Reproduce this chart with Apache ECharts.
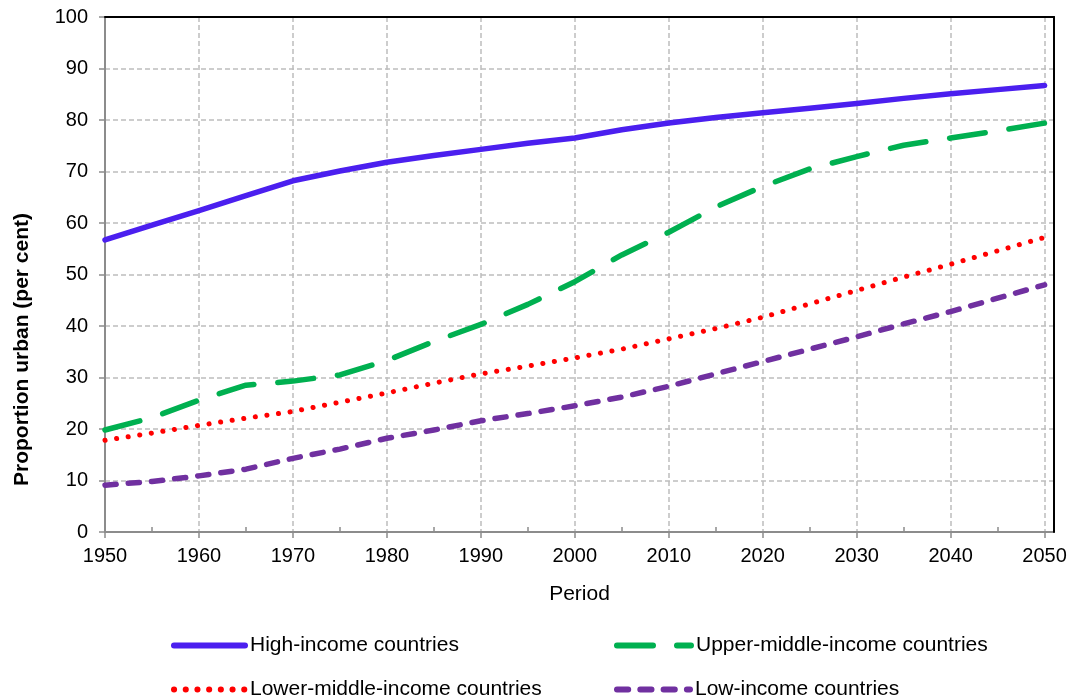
<!DOCTYPE html>
<html>
<head>
<meta charset="utf-8">
<script src="https://cdn.jsdelivr.net/npm/echarts@6/dist/echarts.min.js"></script>
<style>
html,body{margin:0;padding:0;background:#ffffff;}
#chart{width:1076px;height:700px;}
</style>
</head>
<body>
<div id="chart"></div>
<script>
// ---- data ----
const years = [1950,1955,1960,1965,1970,1975,1980,1985,1990,1995,2000,2005,2010,2015,2020,2025,2030,2035,2040,2045,2050];
const highIncome      = [56.7,59.6,62.4,65.3,68.2,70.1,71.8,73.1,74.3,75.5,76.5,78.1,79.4,80.5,81.4,82.3,83.2,84.2,85.1,85.9,86.7];
const upperMiddle     = [19.8,22.2,25.6,28.5,29.3,30.5,33.3,37.0,40.3,44.2,48.6,53.8,58.2,63.1,67.1,70.5,72.9,75.1,76.5,77.9,79.4];
const lowerMiddle     = [17.8,19.2,20.7,22.1,23.4,25.2,27.0,28.9,30.7,32.2,33.8,35.5,37.5,39.5,41.7,44.3,46.9,49.5,52.0,54.6,57.2];
const lowIncome       = [9.1,9.8,10.9,12.2,14.3,16.1,18.2,19.8,21.6,23.0,24.5,26.2,28.3,30.7,33.1,35.5,37.9,40.4,42.8,45.4,48.0];
const seriesNames = ['High-income countries','Upper-middle-income countries','Lower-middle-income countries','Low-income countries'];
const xTickLabels = [1950,1960,1970,1980,1990,2000,2010,2020,2030,2040,2050];
const xMinorTicks = [1955,1965,1975,1985,1995,2005,2015,2025,2035,2045];
const yAxisTitle = 'Proportion urban (per cent)';
const xAxisTitle = 'Period';

const pairs = arr => years.map((y, i) => [y, arr[i]]);
const FONT = "'Liberation Sans', Arial, sans-serif";

const chart = echarts.init(document.getElementById('chart'), null, {renderer: 'canvas'});

const legendBase = {
  orient: 'horizontal',
  padding: 0,
  itemHeight: 12,
  textStyle: {fontFamily: FONT, fontSize: 21, color: '#000'},
  lineStyle: {width: 6},
  itemStyle: {opacity: 0},
  selectedMode: false
};

const option = {
  backgroundColor: '#ffffff',
  animation: false,
  grid: {left: 105, right: 22, top: 17, bottom: 168, show: false},
  legend: [
    Object.assign({}, legendBase, {left: 171, top: 635, itemWidth: 71, data: [seriesNames[0]]}),
    Object.assign({}, legendBase, {left: 614, top: 635, itemWidth: 74, data: [seriesNames[1]]}),
    Object.assign({}, legendBase, {left: 171, top: 679, itemWidth: 71, data: [seriesNames[2]]}),
    Object.assign({}, legendBase, {left: 614, top: 679, itemWidth: 73, data: [seriesNames[3]]})
  ],
  xAxis: [{
    type: 'value', min: 1950, max: 2051, interval: 10, z: 3,
    name: xAxisTitle, nameLocation: 'middle', nameGap: 52,
    nameTextStyle: {fontFamily: FONT, fontSize: 21, color: '#000'},
    axisLine: {show: true, lineStyle: {color: '#8c8c8c', width: 2}},
    axisTick: {show: true, inside: false, length: 6, lineStyle: {color: '#8c8c8c', width: 1.5}, customValues: xTickLabels},
    axisLabel: {fontFamily: FONT, fontSize: 20, color: '#000', margin: 14, customValues: xTickLabels,
      formatter: v => (v % 10 === 0 ? String(v) : '')},
    splitLine: {show: true, lineStyle: {color: '#bdbdbd', width: 1.5, type: [5, 3]}}
  }, {
    type: 'value', min: 1950, max: 2051, interval: 5, position: 'bottom', z: 3,
    axisLine: {show: false},
    axisTick: {show: true, inside: true, length: 5, lineStyle: {color: '#8c8c8c', width: 1.5}, customValues: xMinorTicks},
    axisLabel: {show: false},
    splitLine: {show: false}
  }, {
    type: 'value', min: 1950, max: 2051, interval: 10, position: 'top', z: 4,
    axisLine: {show: true, lineStyle: {color: '#000', width: 2}},
    axisTick: {show: false}, axisLabel: {show: false}, splitLine: {show: false}
  }],
  yAxis: [{
    type: 'value', min: 0, max: 100, interval: 10, z: 3,
    name: yAxisTitle, nameLocation: 'middle', nameGap: 72, nameRotate: 90,
    nameTextStyle: {fontFamily: FONT, fontSize: 21, fontWeight: 'bold', color: '#000', padding: [0, 150, 0, 0]},
    axisLine: {show: true, lineStyle: {color: '#8c8c8c', width: 2}},
    axisTick: {show: true, inside: false, length: 6, lineStyle: {color: '#8c8c8c', width: 1.5}},
    axisLabel: {fontFamily: FONT, fontSize: 20, color: '#000', margin: 17},
    splitLine: {show: true, lineStyle: {color: '#bdbdbd', width: 1.5, type: [5, 3]}}
  }, {
    type: 'value', min: 0, max: 100, interval: 10, position: 'right', z: 4,
    axisLine: {show: true, lineStyle: {color: '#000', width: 2}},
    axisTick: {show: false}, axisLabel: {show: false}, splitLine: {show: false}
  }],
  series: [
    {
      name: seriesNames[0], type: 'line', data: pairs(highIncome), symbol: 'none', z: 4,
      itemStyle: {color: '#4B1FEF'},
      lineStyle: {color: '#4B1FEF', width: 5.5, cap: 'round', join: 'round'}
    },
    {
      name: seriesNames[1], type: 'line', data: pairs(upperMiddle), symbol: 'none', z: 3,
      itemStyle: {color: '#00B050'},
      lineStyle: {color: '#00B050', width: 5.5, type: [36, 24], cap: 'round', join: 'round'}
    },
    {
      name: seriesNames[2], type: 'line', data: pairs(lowerMiddle), symbol: 'none', z: 3,
      itemStyle: {color: '#FF0000'},
      lineStyle: {color: '#FF0000', width: 5, type: [0.1, 11.6], cap: 'round', join: 'round'}
    },
    {
      name: seriesNames[3], type: 'line', data: pairs(lowIncome), symbol: 'none', z: 3,
      itemStyle: {color: '#7030A0'},
      lineStyle: {color: '#7030A0', width: 5.5, type: [11.2, 12.1], cap: 'round', join: 'round'}
    }
  ]
};
chart.setOption(option);
</script>
</body>
</html>
